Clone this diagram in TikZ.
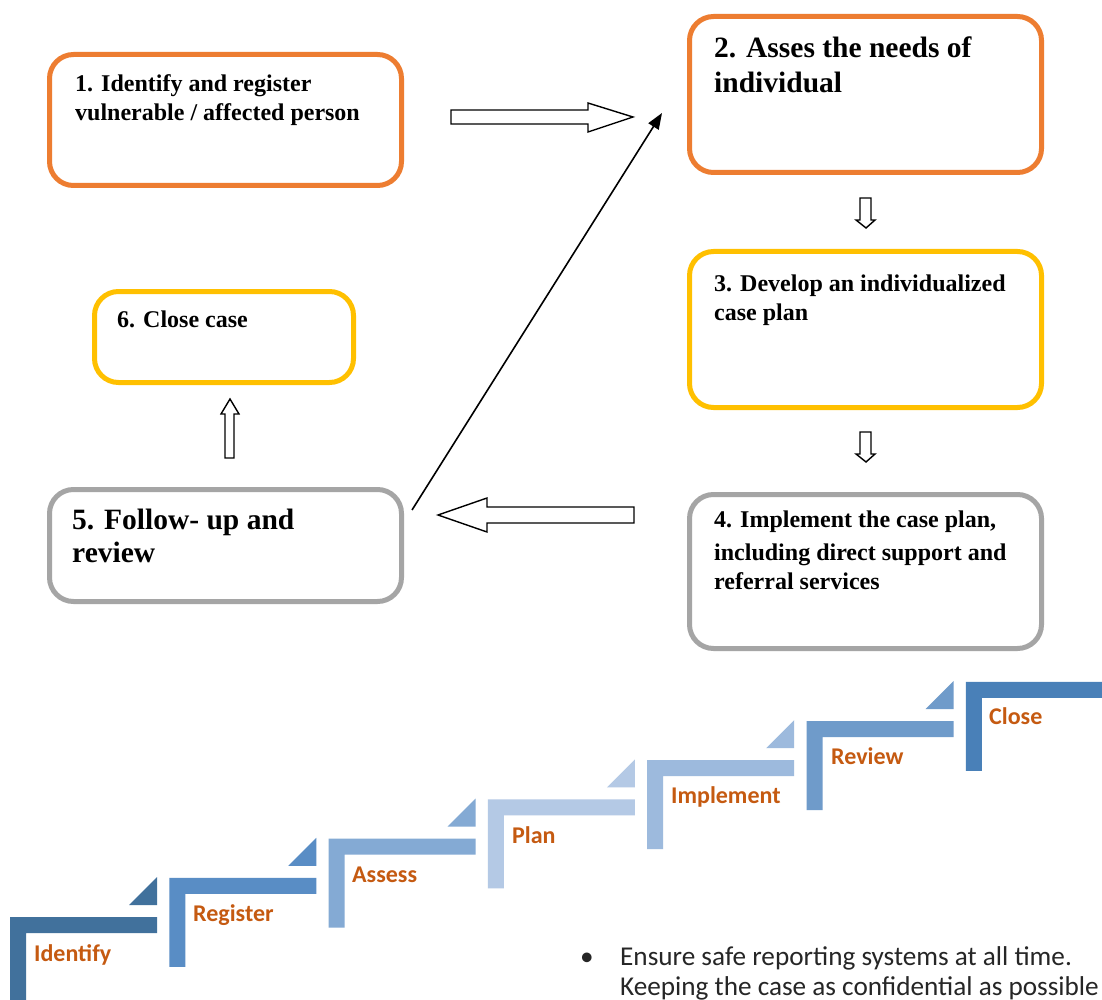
\documentclass[tikz,border=0pt]{standalone}
\usepackage{fontspec}
\setmainfont{Liberation Serif}
\newfontfamily\calfont{Carlito}
\usetikzlibrary{arrows.meta}
\definecolor{boxorange}{HTML}{ED7D31}
\definecolor{boxyellow}{HTML}{FFC000}
\definecolor{boxgray}{HTML}{A5A5A5}
\definecolor{stA}{HTML}{41719C}
\definecolor{stB}{HTML}{598DC5}
\definecolor{stC}{HTML}{84AAD4}
\definecolor{stD}{HTML}{B4C9E5}
\definecolor{stE}{HTML}{9DBADD}
\definecolor{stF}{HTML}{6F9BCA}
\definecolor{stG}{HTML}{4980B8}
\definecolor{lblorange}{HTML}{C55A11}
\definecolor{bodytext}{HTML}{262626}
\begin{document}
\begin{tikzpicture}[x=1pt,y=-1pt,
  casebox/.style={draw=#1, line width=5pt, rounded corners=24pt, fill=white, inner sep=0pt, anchor=north west},
  txtS/.style={font=\bfseries\fontsize{24}{28}\selectfont, inner sep=0pt, anchor=base west},
  txtL/.style={font=\bfseries\fontsize{29.5}{34}\selectfont, inner sep=0pt, anchor=base west},
  blockarrow/.style={draw=black, line width=1.4pt, fill=white, line join=miter},
  steplbl/.style={font=\calfont\bfseries\fontsize{24}{28}\selectfont, text=lblorange, inner sep=0pt, anchor=base west},
  bodytxt/.style={font=\calfont\fontsize{27.2}{31}\selectfont, text=bodytext, inner sep=0pt, anchor=base west}]
\useasboundingbox[fill=white] (0,0) rectangle (1102,1000);

% boxes
\node[casebox=boxorange, minimum width=352pt, minimum height=131pt] (b1) at (47,52) {};
\node[casebox=boxorange, minimum width=352pt, minimum height=156pt] (b2) at (687,14) {};
\node[casebox=boxyellow, minimum width=352pt, minimum height=156pt] (b3) at (687,249) {};
\node[casebox=boxgray, minimum width=352pt, minimum height=154pt] (b4) at (687,492) {};
\node[casebox=boxgray, minimum width=352pt, minimum height=112pt] (b5) at (47,487) {};
\node[casebox=boxyellow, minimum width=259pt, minimum height=91pt] (b6) at (92,289) {};

% box texts
\node[txtS] (t1a) at (75,92) {1. Identify and register};
\node[txtS] (t1b) at (75,121) {vulnerable / affected person};
\node[txtL] (t2a) at (714,58) {2. Asses the needs of};
\node[txtL] (t2b) at (714,93) {individual};
\node[txtS] (t3a) at (714,291) {3. Develop an individualized};
\node[txtS] (t3b) at (714,320) {case plan};
\node[txtS] (t4a) at (714,527) {4. Implement the case plan,};
\node[txtS] (t4b) at (714,560) {including direct support and};
\node[txtS] (t4c) at (714,589) {referral services};
\node[txtL] (t5a) at (72,529) {5. Follow- up and};
\node[txtL] (t5b) at (72,562) {review};
\node[txtS] (t6a) at (117,327) {6. Close case};

% block arrows
\draw[blockarrow] (451,110) -- (588,110) -- (588,103) -- (633,117) -- (588,132) -- (588,124) -- (451,124) -- cycle;
\draw[blockarrow] (634,507) -- (487,507) -- (487,498) -- (438,515) -- (487,532) -- (487,523) -- (634,523) -- cycle;
\draw[blockarrow] (860,198) -- (871,198) -- (871,220) -- (875,220) -- (866,228) -- (856,220) -- (860,220) -- cycle;
\draw[blockarrow] (860,432) -- (871,432) -- (871,454) -- (875,454) -- (866,462) -- (856,454) -- (860,454) -- cycle;
\draw[blockarrow] (225,458) -- (225,414) -- (221,414) -- (230,399) -- (239,414) -- (234,414) -- (234,458) -- cycle;

% thin arrow
\coordinate (f5) at (412,510);
\coordinate (a2) at (662,113);
\draw[line width=1.6pt, -{Triangle[length=16pt,width=12pt]}] (f5) -- (a2);

% staircase
\begin{scope}
\clip (0,0) rectangle (1102,1000);
\foreach \i/\c in {0/stA,1/stB,2/stC,3/stD,4/stE,5/stF,6/stG} {
  \pgfmathsetmacro\xo{10+159.3*\i}
  \pgfmathsetmacro\yt{917-39.2*\i}
  \fill[\c] (\xo,\yt) -- ++(147,0) -- ++(0,16) -- ++(-131,0) -- ++(0,73) -- ++(-16,0) -- cycle;
  \ifnum\i<6
    \fill[\c] (\xo+119,\yt-12) -- (\xo+147,\yt-12) -- (\xo+147,\yt-40) -- cycle;
  \fi
}
\fill[stG] (1100,682) rectangle (1102,698);
\end{scope}

\node[steplbl] (s1) at (34,961) {Identify};
\node[steplbl] (s2) at (193,921) {Register};
\node[steplbl] (s3) at (352,882) {Assess};
\node[steplbl] (s4) at (512,843) {Plan};
\node[steplbl] (s5) at (671,803) {Implement};
\node[steplbl] (s6) at (831,764) {Review};
\node[steplbl] (s7) at (989,724) {Close};

% bullet text
\node[bodytxt, anchor=base] (bul) at (587,965) {\textbullet};
\node[bodytxt] (p1) at (620,965) {Ensure safe reporting systems at all time.};
\node[bodytxt] (p2) at (620,995) {Keeping the case as confidential as possible};
\end{tikzpicture}
\end{document}
